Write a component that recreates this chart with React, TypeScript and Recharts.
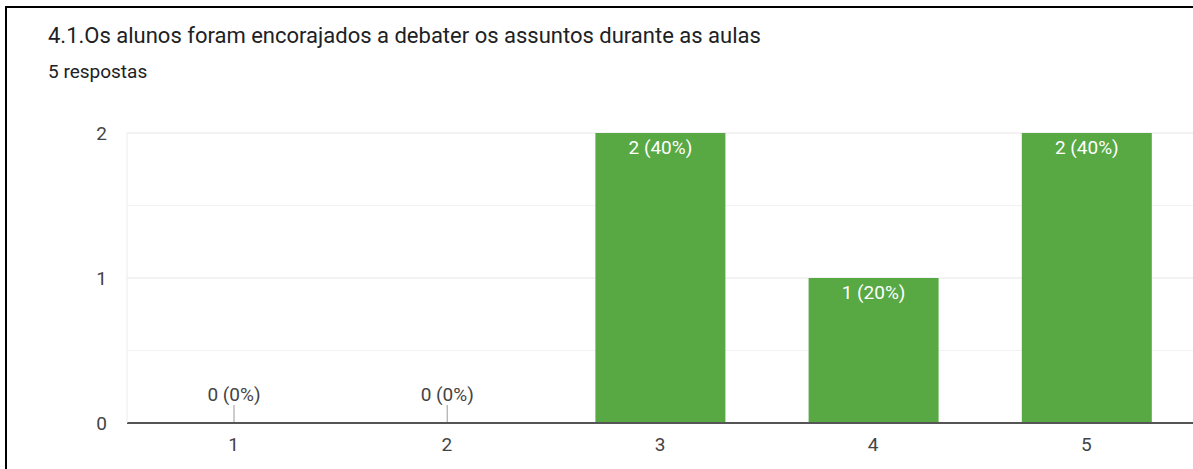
import React from 'react';
import { BarChart, Bar, XAxis, YAxis, CartesianGrid, LabelList, Rectangle } from 'recharts';

const categories = ['1', '2', '3', '4', '5'];
const counts = [0, 0, 2, 1, 2];
const yTicks = [0, 1, 2];
const minorTicks = [0.5, 1.5];
const yMax = 2;
const totalResponses = 5;

const title = '4.1.Os alunos foram encorajados a debater os assuntos durante as aulas';
const subtitle = `${totalResponses} respostas`;

const chartData = categories.map((c, i) => ({ option: c, count: counts[i] }));

const FONT = 'Roboto, "Noto Sans", Arial, sans-serif';

const labelText = (v: number) => `${v} (${Math.round((v / totalResponses) * 100)}%)`;

// map a value to a pixel row of the plot area (grid only)
const gridRows = (ticks: number[]) => (args: any) => {
  const { yAxis, offset } = args;
  if (yAxis && typeof yAxis.scale === 'function') return ticks.map((t) => yAxis.scale(t));
  return ticks.map((t) => offset.top + offset.height * (1 - t / yMax));
};

// zero bars get a small stem with the label above it, like Google Forms
function BarShape(props: any) {
  const { x, y, width, height, value } = props;
  const v = Array.isArray(value) ? value[1] - value[0] : Number(value);
  if (!v) {
    const cx = Number(x) + Number(width) / 2;
    const base = Number(y) + Number(height || 0);
    return (
      <g>
        <line x1={cx} x2={cx} y1={base - 18} y2={base} stroke="#9a9a9a" strokeWidth={1} />
        <text x={cx} y={base - 22} textAnchor="middle" fill="#444" fontSize={19} fontFamily={FONT}>
          {labelText(0)}
        </text>
      </g>
    );
  }
  return <Rectangle x={x} y={y} width={width} height={height} fill="#58a844" />;
}

function renderLabel(props: any) {
  const { x, y, width, value } = props;
  if (!value) return null;
  const cx = Number(x) + Number(width) / 2;
  return (
    <text x={cx} y={Number(y) + 21} textAnchor="middle" fill="#fff" fontSize={19} fontFamily={FONT}>
      {labelText(Number(value))}
    </text>
  );
}

export default function App() {
  return (
    <div style={{ position: 'absolute', left: 0, top: 0, width: 1193, height: 469, background: '#fff', overflow: 'hidden', fontFamily: FONT }}>
      <div style={{ position: 'absolute', left: 5, top: 6, width: 1200, height: 480, borderLeft: '2px solid #000', borderTop: '2px solid #000' }} />
      <div style={{ position: 'absolute', left: 48, top: 25, fontSize: 22, lineHeight: 1, color: '#202124', whiteSpace: 'nowrap' }}>
        {title}
      </div>
      <div style={{ position: 'absolute', left: 48, top: 62, fontSize: 19, lineHeight: 1, color: '#202124', whiteSpace: 'nowrap' }}>
        {subtitle}
      </div>
      <div style={{ position: 'absolute', left: 0, top: 0 }}>
        <BarChart width={1193} height={469} data={chartData} margin={{ top: 133, right: 0, bottom: 16, left: 0 }}>
          <CartesianGrid vertical={false} stroke="#f2f2f2" horizontalCoordinatesGenerator={gridRows(minorTicks)} />
          <CartesianGrid vertical={false} stroke="#e6e6e6" horizontalCoordinatesGenerator={gridRows(yTicks)} />
          <XAxis
            dataKey="option"
            height={30}
            tickLine={false}
            tickSize={0}
            tickMargin={15}
            axisLine={{ stroke: '#555', strokeWidth: 2 }}
            tick={{ fill: '#444', fontSize: 19, fontFamily: FONT }}
          />
          <YAxis
            width={127}
            domain={[0, yMax]}
            ticks={yTicks}
            tickLine={false}
            tickSize={0}
            tickMargin={20}
            axisLine={{ stroke: '#ececec' }}
            tick={{ fill: '#444', fontSize: 19, fontFamily: FONT }}
          />
          <Bar dataKey="count" barSize={130} shape={BarShape} isAnimationActive={false}>
            <LabelList dataKey="count" content={renderLabel} />
          </Bar>
        </BarChart>
      </div>
    </div>
  );
}
